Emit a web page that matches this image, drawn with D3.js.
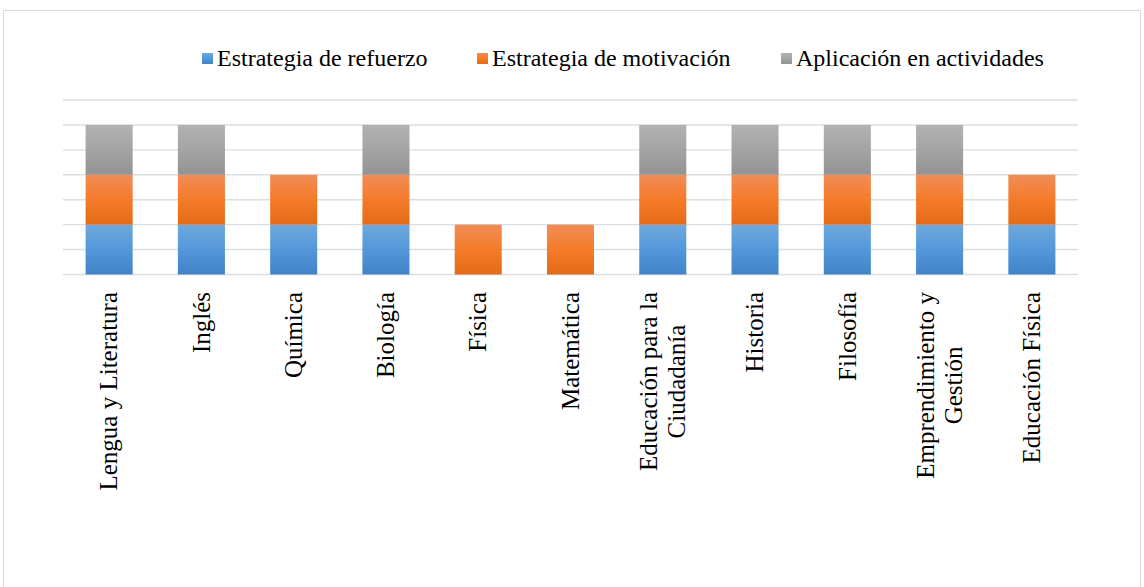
<!DOCTYPE html>
<html>
<head>
<meta charset="utf-8">
<script src="https://cdn.jsdelivr.net/npm/d3@7"></script>
<style>
  body { margin: 0; background: #fff; }
  text { font-family: "Liberation Serif", "Times New Roman", serif; fill: #000; }
</style>
</head>
<body>
<svg id="chart" width="1144" height="587"></svg>
<script>
"use strict"

// chart data
let categories = ["Lengua y Literatura", "Inglés", "Química", "Biología", "Física", "Matemática",
    "Educación para la\nCiudadanía", "Historia", "Filosofía", "Emprendimiento y\nGestión", "Educación Física"];
let seriesNames = ["Estrategia de refuerzo", "Estrategia de motivación", "Aplicación en actividades"];
let refuerzo    = [1, 1, 1, 1, 0, 0, 1, 1, 1, 1, 1];
let motivacion  = [1, 1, 1, 1, 1, 1, 1, 1, 1, 1, 1];
let aplicacion  = [1, 1, 0, 1, 0, 0, 1, 1, 1, 1, 0];
let yTicks = [0, 0.5, 1, 1.5, 2, 2.5, 3, 3.5];

let svg = d3.select("#chart");

// outer frame
svg.append("rect")
    .attr("x", 3.5).attr("y", 10.5)
    .attr("width", 1137).attr("height", 620)
    .attr("fill", "none")
    .attr("stroke", "#d9d9d9")
    .attr("stroke-width", 1);

// gradients like the excel fill
let grads = [
    ["#6fa8dd", "#5398da", "#4183c6"],
    ["#f18d58", "#f47b29", "#e36a17"],
    ["#b2b2b2", "#a4a4a4", "#939393"]
];
let defs = svg.append("defs");
grads.forEach(function (g, i) {
    let lg = defs.append("linearGradient")
        .attr("id", "grad" + i)
        .attr("x1", 0).attr("y1", 0).attr("x2", 0).attr("y2", 1);
    lg.append("stop").attr("offset", "0%").attr("stop-color", g[0]);
    lg.append("stop").attr("offset", "50%").attr("stop-color", g[1]);
    lg.append("stop").attr("offset", "100%").attr("stop-color", g[2]);
});

let x = d3.scaleBand()
    .domain(categories)
    .range([63, 1078])
    .paddingInner(0.49)
    .paddingOuter(0.245);

let y = d3.scaleLinear()
    .domain([0, 3.5])
    .range([274.5, 100]);

// gridlines
svg.append("g")
    .selectAll("line")
    .data(yTicks)
    .enter()
    .append("line")
    .attr("x1", 63).attr("x2", 1078)
    .attr("y1", function (d) { return y(d); })
    .attr("y2", function (d) { return y(d); })
    .attr("stroke", "#dadde3")
    .attr("stroke-width", 1.4);

// stacking
let rows = categories.map(function (c, i) {
    return { cat: c, s0: refuerzo[i], s1: motivacion[i], s2: aplicacion[i] };
});
let stack = d3.stack().keys(["s0", "s1", "s2"]);
let layers = stack(rows);

let layerG = svg.append("g")
    .selectAll("g")
    .data(layers)
    .enter()
    .append("g")
    .attr("fill", function (d, i) { return "url(#grad" + i + ")"; });

layerG.selectAll("rect")
    .data(function (d) { return d.filter(function (p) { return p[1] - p[0] > 0; }); })
    .enter()
    .append("rect")
    .attr("x", function (d) { return x(d.data.cat); })
    .attr("width", x.bandwidth())
    .attr("y", function (d) { return y(d[1]); })
    .attr("height", function (d) { return y(d[0]) - y(d[1]); });

// category labels, rotated
let labelSize = 25;
let legendSize = 24;
let lineGap = 28;
let labelTop = 292;
categories.forEach(function (c) {
    let lines = c.split("\n");
    let cx = x(c) + x.bandwidth() / 2;
    let t = svg.append("text")
        .attr("font-size", labelSize)
        .attr("text-anchor", "middle");
    lines.forEach(function (l) {
        t.append("tspan").text(l);
    });
    // measure longest line
    let maxW = 0;
    t.selectAll("tspan").each(function () {
        maxW = Math.max(maxW, this.getComputedTextLength());
    });
    let n = lines.length;
    t.attr("transform", "translate(" + cx + "," + (labelTop + maxW / 2) + ") rotate(-90)");
    t.selectAll("tspan")
        .attr("x", 0)
        .attr("y", function (d, j) { return (j - (n - 1) / 2) * lineGap + labelSize * 0.33; });
});

// legend
let legendX = [202, 477, 781];
let legend = svg.append("g");
seriesNames.forEach(function (name, i) {
    legend.append("rect")
        .attr("x", legendX[i]).attr("y", 53)
        .attr("width", 11).attr("height", 11)
        .attr("fill", "url(#grad" + i + ")");
    legend.append("text")
        .attr("x", legendX[i] + 15)
        .attr("y", 66)
        .attr("font-size", legendSize)
        .text(name);
});
</script>
</body>
</html>
